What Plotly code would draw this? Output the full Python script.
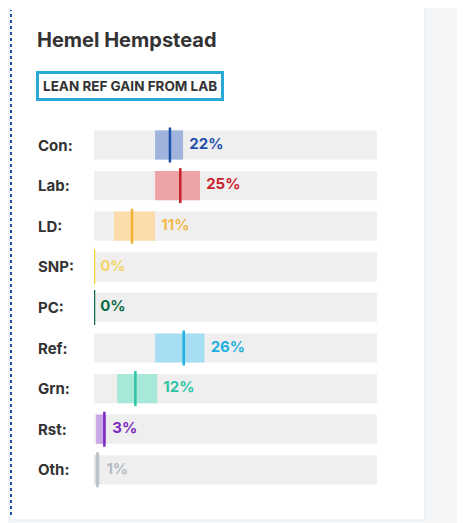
import plotly.graph_objects as go

parties = ["Con", "Lab", "LD", "SNP", "PC", "Ref", "Grn", "Rst", "Oth"]
values = [22, 25, 11, 0, 0, 26, 12, 3, 1]
low = [17.7, 17.7, 5.8, 0, 0, 17.7, 6.7, 0.6, 0]
high = [25.8, 30.7, 17.7, 0, 0, 32, 18.3, 3.5, 1.8]
line_colors = ["#1f4fa8", "#c8232c", "#f2b233", "#f5d033", "#0f6b45", "#1fb0e0", "#2ec4a5", "#7b2cbf", "#b4bcc4"]
band_colors = ["#9fb3dd", "#eea3a6", "#fbdcaa", "#f5d033", "#0f6b45", "#a6ddf3", "#a8e8d8", "#c9a6e6", "#dde1e5"]
text_colors = ["#1f4fa8", "#c8232c", "#f2b84a", "#f5d56a", "#0f6b45", "#1fb0e0", "#2ec4a5", "#7b2cbf", "#b4bcc4"]
xmax = 82

W, H = 465, 523
O = 8  # page body offset
def px(x): return (x - O) / W
def py(y): return 1 - (y - O) / H

rows = list(range(len(parties)))
fig = go.Figure()
fig.add_trace(go.Bar(y=rows, x=[xmax]*len(rows), base=0, orientation="h",
                     marker=dict(color="#efefef", line_width=0), width=0.72, hoverinfo="skip"))
fig.add_trace(go.Bar(y=rows, x=[h-l for h, l in zip(high, low)], base=low, orientation="h",
                     marker=dict(color=band_colors, line_width=0), width=0.72, hoverinfo="skip"))
fig.add_trace(go.Scatter(y=rows, x=values, mode="markers",
                         marker=dict(symbol="line-ns", size=25, line=dict(width=2.5, color=line_colors)),
                         hoverinfo="skip"))
fig.add_trace(go.Scatter(y=rows, x=[max(h, v) + 1.8 for h, v in zip(high, values)], mode="text",
                         text=[f"{v}%" for v in values], textposition="middle right",
                         textfont=dict(family="Inter", size=15, color=text_colors, weight="bold"),
                         hoverinfo="skip"))

for i, p in enumerate(parties):
    fig.add_annotation(x=px(36), xref="paper", y=i, yref="y", text=f"<b>{p}:</b>",
                       showarrow=False, xanchor="left", font=dict(family="Inter", size=15, color="#333"))

fig.add_annotation(x=px(35), y=py(40), xref="paper", yref="paper", text="<b>Hemel Hempstead</b>",
                   showarrow=False, xanchor="left", yanchor="middle",
                   font=dict(family="Inter", size=20, color="#333"))
fig.add_annotation(x=px(36), y=py(86), xref="paper", yref="paper", text="<b>LEAN REF GAIN FROM LAB</b>",
                   showarrow=False, xanchor="left", yanchor="middle",
                   font=dict(family="Inter", size=13.5, color="#333"),
                   bordercolor="#2aa9d9", borderwidth=3, borderpad=4, bgcolor="white")

fig.add_shape(type="rect", xref="paper", yref="paper", x0=px(10), x1=px(425), y0=py(520), y1=py(5),
              fillcolor="white", line=dict(color="#e6e9ec", width=1), layer="below")
fig.add_shape(type="line", xref="paper", yref="paper", x0=px(11), x1=px(11), y0=py(515), y1=py(10),
              line=dict(color="#1f4fa8", width=2, dash="dot"), layer="below")
fig.add_shape(type="line", xref="paper", yref="paper", x0=px(235), x1=px(355), y0=py(6), y1=py(6),
              line=dict(color="#1f4fa8", width=2), layer="below")
fig.add_shape(type="line", xref="paper", yref="paper", x0=px(355), x1=px(420), y0=py(6), y1=py(6),
              line=dict(color="#f5b83a", width=2), layer="below")

row0, step = 145, 40.6
fig.update_layout(
    width=W, height=H, margin=dict(l=0, r=0, t=0, b=0),
    paper_bgcolor="#f4f6f8", plot_bgcolor="rgba(0,0,0,0)",
    barmode="overlay", showlegend=False,
    xaxis=dict(domain=[px(94), px(377)], range=[0, xmax], visible=False, fixedrange=True),
    yaxis=dict(domain=[0, 1], range=[(H + O - row0)/step, (O - row0)/step], visible=False, fixedrange=True),
)
fig.write_html("out.html")
